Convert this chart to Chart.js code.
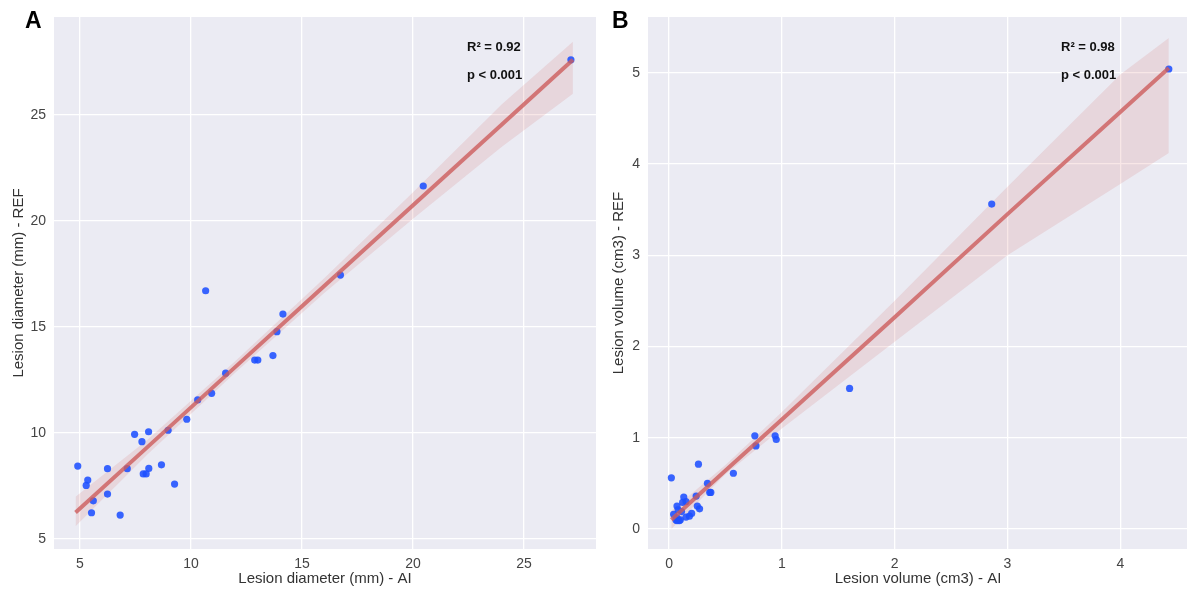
<!DOCTYPE html>
<html lang="en">
<head>
  <meta charset="UTF-8">
  <title>Lesion size - AI vs REF</title>
  <script src="https://cdn.jsdelivr.net/npm/chart.js"></script>
  <style>
    body { margin: 0; background: #fff; width: 1187px; height: 590px; overflow: hidden; position: relative; }
    .panel { position: absolute; top: 0; }
  </style>
</head>
<body>
  <div class="panel" style="left:0"><canvas id="chartA" width="600" height="590"></canvas></div>
  <div class="panel" style="left:600px"><canvas id="chartB" width="592" height="590"></canvas></div>
  <script>
    // panel A: lesion diameter (mm)
    const diamAI = [4.9, 5.35, 5.28, 5.6, 5.52, 6.24, 6.24, 6.81, 7.13, 7.46, 7.79, 7.85, 7.98, 8.1, 8.09, 8.67,
      8.97, 9.26, 9.81, 10.3, 10.93, 10.66, 11.56, 12.87, 13.01, 13.69, 13.87, 14.14, 16.73, 20.46, 27.11];
    const diamREF = [8.44, 7.78, 7.53, 6.8, 6.24, 8.32, 7.12, 6.13, 8.32, 9.94, 9.59, 8.07, 8.07, 8.33, 10.06, 8.5,
      10.13, 7.59, 10.65, 11.56, 11.87, 16.71, 12.82, 13.44, 13.44, 13.65, 14.78, 15.61, 17.45, 21.65, 27.6];
    const diamFitX = [4.8, 8, 12, 16, 20, 24, 27.2];
    const diamFit = [6.25, 9.3, 13.12, 16.93, 20.74, 24.55, 27.6];
    const diamLow = [5.6, 8.95, 12.85, 16.6, 20.1, 23.5, 26.0];
    const diamHigh = [7.0, 9.65, 13.4, 17.3, 21.35, 25.5, 28.45];

    // panel B: lesion volume (cm3)
    const volAI = [4.43, 2.86, 1.6, 0.94, 0.95, 0.76, 0.77, 0.57, 0.02, 0.26, 0.34, 0.36, 0.37, 0.24, 0.13, 0.15,
      0.12, 0.07, 0.25, 0.27, 0.04, 0.08, 0.2, 0.18, 0.15, 0.07, 0.09, 0.07, 0.11, 0.1, 0.06];
    const volREF = [5.04, 3.56, 1.54, 1.02, 0.98, 1.02, 0.91, 0.61, 0.56, 0.71, 0.5, 0.4, 0.4, 0.36, 0.35, 0.3,
      0.29, 0.25, 0.25, 0.22, 0.16, 0.21, 0.17, 0.14, 0.13, 0.12, 0.09, 0.09, 0.19, 0.1, 0.1];
    const volFitX = [0.02, 0.5, 1, 2, 3, 4, 4.43];
    const volFit = [0.1, 0.64, 1.2, 2.32, 3.45, 4.57, 5.05];
    const volLow = [0.0, 0.6, 1.1, 2.05, 3.0, 3.78, 4.12];
    const volHigh = [0.2, 0.7, 1.28, 2.5, 3.75, 4.98, 5.38];

    const FONT = '"Liberation Sans", Arial, sans-serif';
    const pts = (xs, ys) => xs.map((x, i) => ({ x: x, y: ys[i] }));

    const bgPlugin = {
      id: 'plotBg',
      beforeDraw(chart) {
        const a = chart.chartArea, ctx = chart.ctx;
        ctx.save();
        ctx.fillStyle = '#ebebf3';
        ctx.fillRect(a.left, a.top, a.right - a.left, a.bottom - a.top);
        ctx.restore();
      }
    };

    const textPlugin = {
      id: 'panelText',
      afterDraw(chart, args, opts) {
        const ctx = chart.ctx;
        ctx.save();
        ctx.fillStyle = '#000';
        ctx.textBaseline = 'middle';
        ctx.font = 'bold 23px ' + FONT;
        ctx.fillText(opts.letter, opts.letterX, 22);
        ctx.font = 'bold 13px ' + FONT;
        ctx.fillStyle = '#111';
        ctx.fillText(opts.r2, opts.statX, 47);
        ctx.fillText('p < 0.001', opts.statX, 75);
        ctx.restore();
      }
    };

    function makeChart(id, cfg) {
      const axis = (title, min, max, step, size, vertical) => ({
        type: 'linear', min: min, max: max,
        grid: { color: '#ffffff', lineWidth: 1.3, drawTicks: false },
        border: { display: false },
        ticks: { stepSize: step, includeBounds: false, padding: vertical ? 8 : 7, color: '#444',
          font: { family: FONT, size: 14 } },
        title: { display: true, text: title, color: '#333',
          padding: vertical ? { top: 10, bottom: 0 } : { top: 0, bottom: 2 },
          font: { family: FONT, size: 15 } },
        afterFit(scale) {
          if (scale.isHorizontal()) scale.height = size; else scale.width = size;
        }
      });
      return new Chart(document.getElementById(id), {
        type: 'scatter',
        data: {
          datasets: [
            { data: pts(cfg.fitX, cfg.high), showLine: true, pointRadius: 0, borderWidth: 0,
              backgroundColor: 'rgba(205,92,92,0.15)', fill: '+1', order: 3 },
            { data: pts(cfg.fitX, cfg.low), showLine: true, pointRadius: 0, borderWidth: 0, fill: false, order: 3 },
            { data: pts(cfg.xs, cfg.ys), pointRadius: 3.6, pointBorderWidth: 0,
              backgroundColor: 'rgba(30,80,255,0.88)', order: 2 },
            { data: pts(cfg.fitX, cfg.fit), showLine: true, pointRadius: 0, borderWidth: 4,
              borderColor: 'rgba(205,92,92,0.8)', fill: false, order: 1 }
          ]
        },
        options: {
          responsive: false,
          animation: false,
          layout: { padding: { top: 17, right: cfg.padRight, left: 0, bottom: 0 } },
          plugins: {
            legend: { display: false },
            tooltip: { enabled: false },
            panelText: { letter: cfg.letter, letterX: cfg.letterX, statX: cfg.statX, r2: cfg.r2 }
          },
          scales: {
            x: axis(cfg.xTitle, cfg.xMin, cfg.xMax, cfg.xStep, 41, false),
            y: axis(cfg.yTitle, cfg.yMin, cfg.yMax, cfg.yStep, cfg.yWidth, true)
          }
        },
        plugins: [bgPlugin, textPlugin]
      });
    }

    makeChart('chartA', {
      xs: diamAI, ys: diamREF, fitX: diamFitX, fit: diamFit, low: diamLow, high: diamHigh,
      xTitle: 'Lesion diameter (mm) - AI', yTitle: 'Lesion diameter (mm) - REF',
      xMin: 3.83, xMax: 28.24, xStep: 5, yMin: 4.53, yMax: 29.62, yStep: 5,
      yWidth: 54, padRight: 3, letter: 'A', letterX: 25, statX: 467, r2: 'R² = 0.92'
    });

    makeChart('chartB', {
      xs: volAI, ys: volREF, fitX: volFitX, fit: volFit, low: volLow, high: volHigh,
      xTitle: 'Lesion volume (cm3) - AI', yTitle: 'Lesion volume (cm3) - REF',
      xMin: -0.187, xMax: 4.6, xStep: 1, yMin: -0.22, yMax: 5.61, yStep: 1,
      yWidth: 48, padRight: 0, letter: 'B', letterX: 12, statX: 461, r2: 'R² = 0.98'
    });
  </script>
</body>
</html>
